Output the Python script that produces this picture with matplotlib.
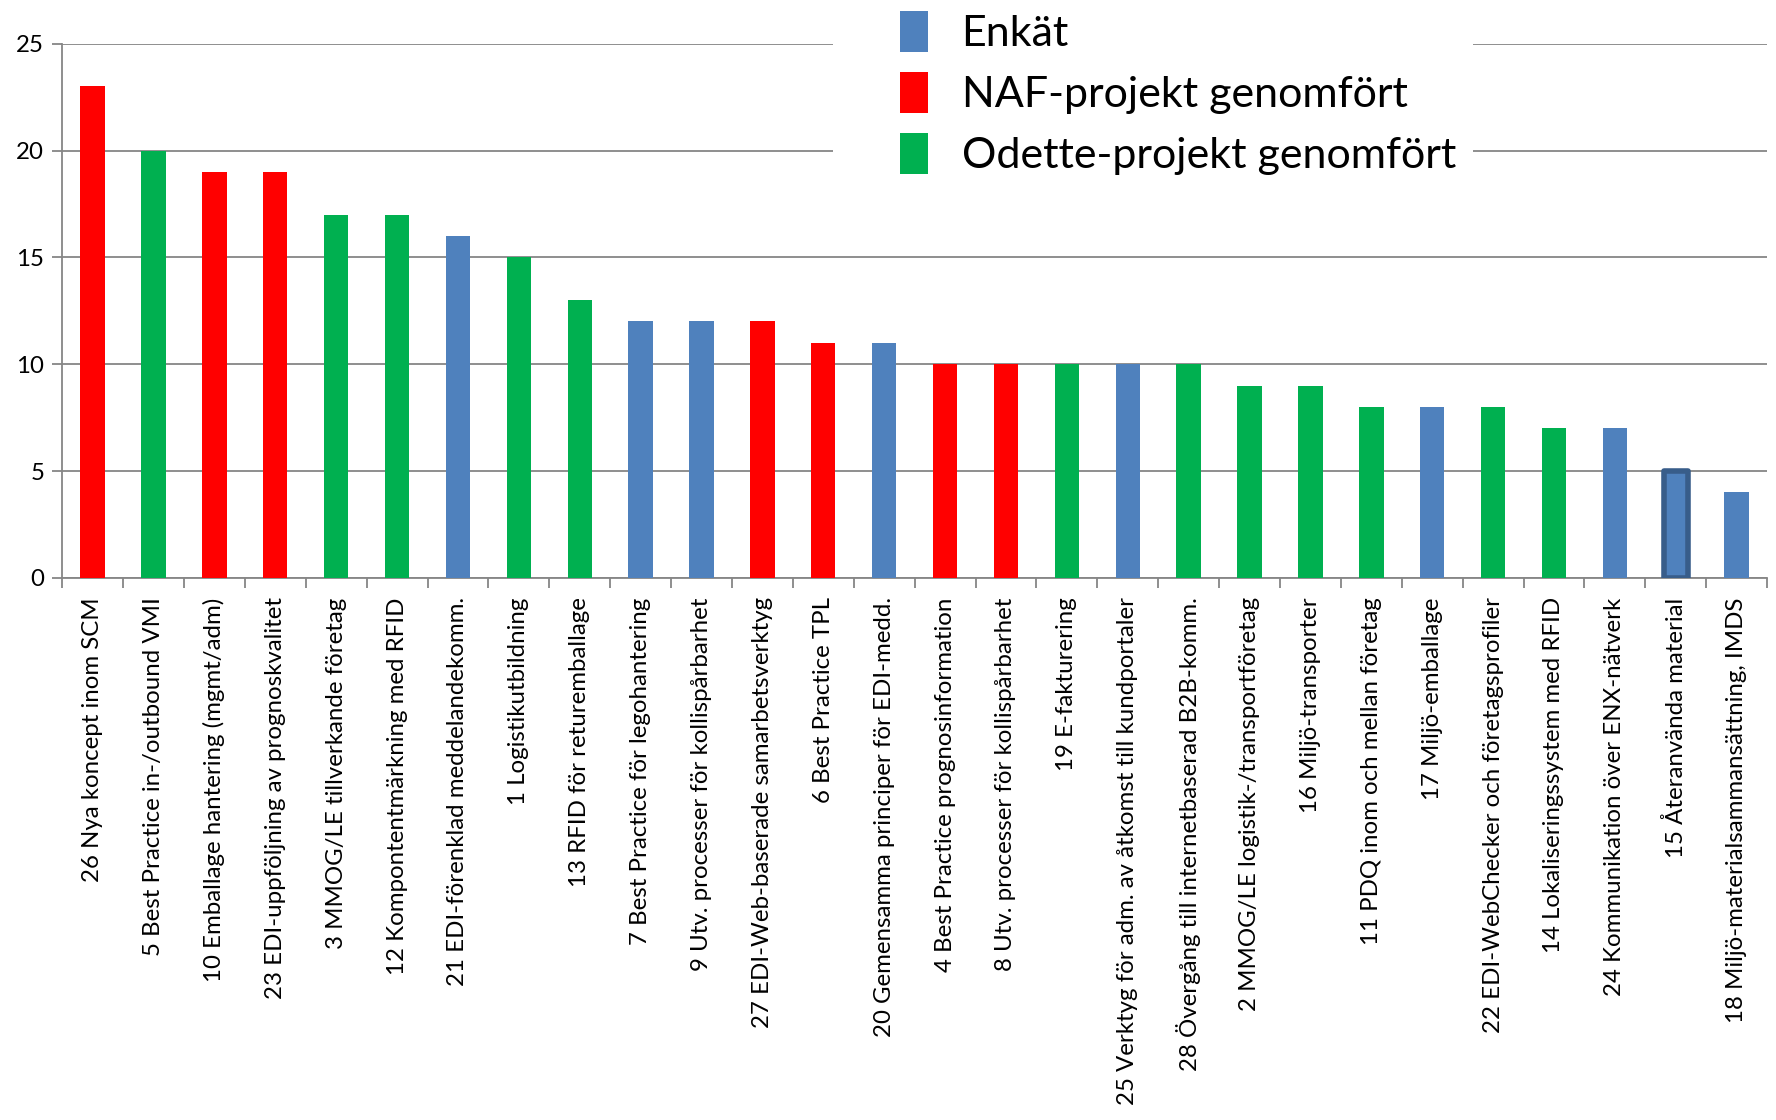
import matplotlib
matplotlib.use("Agg")
import matplotlib.pyplot as plt
from matplotlib.patches import Patch, Rectangle

# kategorier, värden och grupp (E = Enkät, N = NAF, O = Odette)
categories = [
    "26 Nya koncept inom SCM",
    "5 Best Practice in-/outbound VMI",
    "10 Emballage hantering (mgmt/adm)",
    "23 EDI-uppföljning av prognoskvalitet",
    "3 MMOG/LE tillverkande företag",
    "12 Kompontentmärkning med RFID",
    "21 EDI-förenklad meddelandekomm.",
    "1 Logistikutbildning",
    "13 RFID för returemballage",
    "7 Best Practice för legohantering",
    "9 Utv. processer för kollispårbarhet",
    "27 EDI-Web-baserade samarbetsverktyg",
    "6 Best Practice TPL",
    "20 Gemensamma principer för EDI-medd.",
    "4 Best Practice prognosinformation",
    "8 Utv. processer för kollispårbarhet",
    "19 E-fakturering",
    "25 Verktyg för adm. av åtkomst till kundportaler",
    "28 Övergång till internetbaserad B2B-komm.",
    "2 MMOG/LE logistik-/transportföretag",
    "16 Miljö-transporter",
    "11 PDQ inom och mellan företag",
    "17 Miljö-emballage",
    "22 EDI-WebChecker och företagsprofiler",
    "14 Lokaliseringssystem med RFID",
    "24 Kommunikation över ENX-nätverk",
    "15 Återanvända material",
    "18 Miljö-materialsammansättning, IMDS",
]
values = [23, 20, 19, 19, 17, 17, 16, 15, 13, 12, 12, 12, 11, 11,
          10, 10, 10, 10, 10, 9, 9, 8, 8, 8, 7, 7, 5, 4]
groups = ["N", "O", "N", "N", "O", "O", "E", "O", "O", "E", "E", "N", "N", "E",
          "N", "N", "O", "E", "O", "O", "O", "O", "E", "O", "O", "E", "E", "E"]
selected = "15 Återanvända material"

legend_labels = {"E": "Enkät", "N": "NAF-projekt genomfört", "O": "Odette-projekt genomfört"}
colors = {"E": "#4F81BD", "N": "#FF0000", "O": "#00B050"}

plt.rcParams["font.family"] = ["Lato", "DejaVu Sans"]

fig = plt.figure(figsize=(17.76, 11.2), dpi=100)
ax = fig.add_axes([0.035, 0.484, 0.96, 0.477])

x = list(range(len(categories)))
bars = ax.bar(x, values, width=0.4, color=[colors[g] for g in groups], zorder=3)
for b, cat in zip(bars, categories):
    if cat == selected:
        b.set_edgecolor("#385D8A")
        b.set_linewidth(4)
        b.set_joinstyle("round")

ax.set_ylim(0, 25)
ax.set_xlim(-0.5, len(categories) - 0.5)
ax.set_yticks(range(0, 26, 5))
ax.yaxis.grid(True, color="#868686", linewidth=1.3, zorder=0)
ax.set_axisbelow(True)

ax.set_xticks(x)
ax.set_xticklabels(categories, rotation=90, fontsize=17.3)
ax.set_xticks([i - 0.5 for i in range(len(categories) + 1)], minor=True)
ax.tick_params(axis="x", which="major", length=0, pad=14)
ax.tick_params(axis="x", which="minor", length=7, color="#868686", width=1.3)
ax.tick_params(axis="y", length=7, color="#868686", width=1.3, labelsize=17.3, pad=6)

for side in ["top", "right"]:
    ax.spines[side].set_visible(False)
ax.spines["left"].set_color("#868686")
ax.spines["bottom"].set_color("#868686")
ax.spines["left"].set_linewidth(1.3)
ax.spines["bottom"].set_linewidth(1.3)

# vit bakgrund bakom förklaringen
fig.patches.append(Rectangle((833 / 1776, 1 - 175 / 1120), 640 / 1776, 175 / 1120,
                             transform=fig.transFigure, facecolor="white",
                             edgecolor="none", zorder=5))

handles = [Patch(facecolor=colors[k], edgecolor="none") for k in ["E", "N", "O"]]
leg = fig.legend(handles, [legend_labels[k] for k in ["E", "N", "O"]],
                 loc="upper left", bbox_to_anchor=(900 / 1776, 1 - 11 / 1120),
                 frameon=False, fontsize=31, handlelength=0.65, handleheight=1.1,
                 handletextpad=0.78, labelspacing=0.43, borderpad=0, borderaxespad=0)
leg.set_zorder(6)

fig.savefig("out.png", dpi=100)
